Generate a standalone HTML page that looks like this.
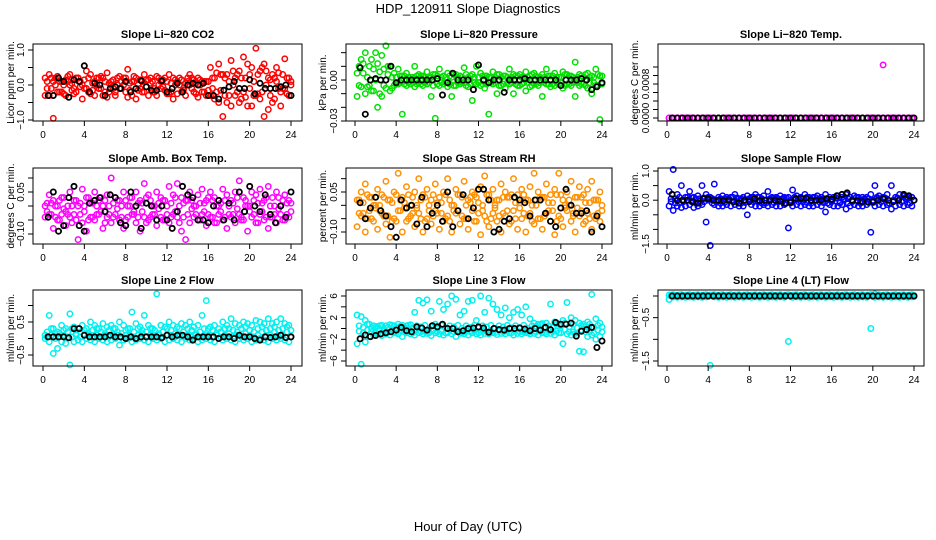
<!DOCTYPE html>
<html><head><meta charset="utf-8"><style>
html,body{margin:0;padding:0;background:#fff}
svg{display:block;font-family:"Liberation Sans",Arial,sans-serif}
</style></head><body>
<svg id="c" width="936" height="540" viewBox="0 0 936 540" xmlns="http://www.w3.org/2000/svg">
<text x="468" y="13" text-anchor="middle" font-size="13">HDP_120911  Slope Diagnostics</text>
<text x="468" y="531" text-anchor="middle" font-size="13">Hour of Day (UTC)</text>
</svg>
<script>
const xTicks=[0,4,8,12,16,20,24];
const hoursColor=[0.2,0.6,1,1.4,1.8,2.2,2.6,3,3.4,3.8,4.2,4.6,5,5.4,5.8,6.2,6.6,7,7.4,7.8,8.2,8.6,9,9.4,9.8,10.2,10.6,11,11.4,11.8,12.2,12.6,13,13.4,13.8,14.2,14.6,15,15.4,15.8,16.2,16.6,17,17.4,17.8,18.2,18.6,19,19.4,19.8,20.2,20.6,21,21.4,21.8,22.2,22.6,23,23.4,23.8];
const hoursColor2=[0.4,0.8,1.2,1.6,2,2.4,2.8,3.2,3.6,4,4.4,4.8,5.2,5.6,6,6.4,6.8,7.2,7.6,8,8.4,8.8,9.2,9.6,10,10.4,10.8,11.2,11.6,12,12.4,12.8,13.2,13.6,14,14.4,14.8,15.2,15.6,16,16.4,16.8,17.2,17.6,18,18.4,18.8,19.2,19.6,20,20.4,20.8,21.2,21.6,22,22.4,22.8,23.2,23.6,24];
const hoursBlack=[0.5,1,1.5,2,2.5,3,3.5,4,4.5,5,5.5,6,6.5,7,7.5,8,8.5,9,9.5,10,10.5,11,11.5,12,12.5,13,13.5,14,14.5,15,15.5,16,16.5,17,17.5,18,18.5,19,19.5,20,20.5,21,21.5,22,22.5,23,23.5,24];

const co2A=[0.2,-0.3,0.1,0.25,-0.2,0.15,0.3,-0.1,0.2,0,0.4,-0.25,0.1,0.2,-0.3,0.35,0.1,-0.2,0.25,0,0.45,-0.3,0.2,-0.1,0.3,0.15,-0.2,0.25,0.1,-0.15,0.3,0.2,-0.25,0.15,0.05,0.3,-0.2,0.2,0.1,-0.3,0.5,-0.4,0.6,0.3,-0.5,0.7,-0.3,0.4,0.8,-0.6,0.5,1.05,-0.4,0.6,-0.7,0.3,0.5,-0.2,0.75,0.2];
const co2B=[-0.3,0.3,-0.95,-0.2,0.1,-0.3,0,-0.25,0.2,-0.4,-0.1,0.3,-0.3,-0.1,0.2,-0.35,0,-0.3,-0.1,0.2,-0.35,0.1,-0.4,0.15,-0.2,-0.3,0.1,-0.3,-0.1,0.2,-0.25,-0.4,0.1,-0.2,-0.3,0,0.15,-0.35,-0.2,0.1,-0.3,0.2,-0.5,-0.9,0.3,-0.6,0.2,-0.5,-0.2,0.6,-0.6,-0.3,0.4,-0.9,0.2,-0.5,0.1,-0.6,-0.1,-0.3];
const co2C=[0.1,-0.1,0.2,-0.2,0,0.1,-0.15,0.2,-0.05,0.15,-0.2,0.05,0.2,-0.1,0.1,-0.2,0.15,0,-0.1,0.2,-0.15,0.1,0,-0.2,0.15,0.05,-0.1,0.2,-0.05,0.1,-0.2,0.15,0,-0.15,0.2,-0.1,0.05,0.15,-0.2,0.1,0.2,-0.2,0.3,-0.3,0.1,0.4,-0.2,0.2,-0.35,0.3,0.1,-0.25,0.5,0,-0.3,0.2,0.35,-0.1,0.2,0];
const co2D=[-0.1,0.2,0,0.1,-0.25,0.25,0.05,-0.2,0.1,-0.1,0.2,-0.15,0,0.25,-0.2,0.05,-0.1,0.2,0.1,-0.2,0.05,0.25,-0.15,0.1,-0.05,0.2,-0.2,0,0.15,-0.25,0.05,0,0.2,-0.1,0.1,0.2,-0.25,0,0.1,-0.15,-0.1,0.35,-0.15,0.2,-0.3,0,0.3,-0.4,0.2,-0.1,-0.3,0.3,-0.2,0.4,0.15,-0.4,-0.1,0.3,-0.25,0.1];
const co2Black=[-0.3,-0.3,0.2,0.1,-0.35,0.15,0.1,0.55,-0.2,0.05,0,-0.3,-0.1,-0.05,-0.1,0.1,-0.2,-0.1,0.12,-0.05,-0.15,-0.15,0.12,-0.2,-0.1,0.05,-0.2,0,0.05,0,0.05,-0.3,-0.3,-0.4,-0.15,-0.05,0.1,-0.1,-0.1,0.15,-0.25,0.05,-0.1,-0.1,-0.1,-0.05,0,-0.3];

const presA=[0.005,0.015,0.02,0.01,0.008,0.012,0.018,0.025,0.01,0.005,0.008,0.003,0.005,0.002,0.01,0.004,0.003,0.006,0.002,0.004,0.008,0.003,0.005,0.002,0.004,0.003,0.009,0.002,0.004,0.01,0.005,0.003,0.002,0.006,0.004,0.002,0.003,0.008,0.004,0.003,0.002,0.006,0.003,0.005,0.002,0.004,0.008,0.003,0.005,0.002,0.006,0.004,0.003,0.013,0.004,0.002,0.005,0.003,0.008,0.003];
const presB=[-0.012,-0.005,-0.01,-0.004,-0.008,-0.02,-0.012,-0.006,-0.008,-0.004,-0.003,-0.025,-0.004,-0.003,-0.005,-0.002,-0.004,-0.003,-0.012,-0.028,-0.004,-0.003,-0.005,-0.012,-0.004,-0.003,-0.002,-0.005,-0.015,-0.003,-0.004,-0.006,-0.025,-0.003,-0.01,-0.004,-0.006,-0.003,-0.01,-0.004,-0.003,-0.008,-0.005,-0.003,-0.004,-0.012,-0.003,-0.005,-0.004,-0.003,-0.006,-0.003,-0.004,-0.012,-0.004,-0.003,-0.006,-0.01,-0.004,-0.029];
const presC=[0.01,0.005,-0.005,0.015,0,-0.01,0.008,0.004,-0.006,0.002,0.003,-0.003,0.002,-0.002,0.003,-0.003,0.002,-0.002,0.004,-0.003,0.002,-0.002,0.003,-0.004,0.002,-0.002,0.004,-0.003,0.002,-0.002,0.003,-0.003,0.002,-0.002,0.004,-0.003,0.002,-0.002,0.003,-0.004,0.002,-0.002,0.004,-0.003,0.002,-0.002,0.003,-0.003,0.002,-0.002,0.004,-0.003,0.002,-0.002,0.003,-0.004,0.002,-0.002,0.004,-0.003];
const presD=[-0.004,0.012,0.002,-0.008,0.02,0.006,-0.004,0.01,0.002,-0.003,-0.002,0.003,-0.002,0.002,-0.003,0.003,-0.002,0.002,-0.004,0.003,-0.002,0.002,-0.003,0.004,-0.002,0.002,-0.004,0.003,-0.002,0.002,-0.003,0.003,-0.002,0.002,-0.004,0.003,-0.002,0.002,-0.003,0.004,-0.002,0.002,-0.004,0.003,-0.002,0.002,-0.003,0.003,-0.002,0.002,-0.004,0.003,-0.002,0.002,-0.003,0.004,-0.002,0.002,-0.004,0.003];
const presBlack=[0.009,-0.025,0,0.001,0,0,0.01,-0.002,0,0,0,0,0,0,0,0.001,-0.011,-0.002,0.005,0,0,0,-0.007,0.011,0,-0.002,0,0,-0.009,0,0,0,0.001,0,0,0,0,0,0,-0.004,0,0,0,0.001,0,-0.007,-0.005,-0.002];

const tempA=[0,0,0,0,0,0,0,0,0,0,0,0,0,0,0,0,0,0,0,0,0,0,0,0,0,0,0,0,0,0,0,0,0,0,0,0,0,0,0,0,0,0,0,0,0,0,0,0,0,0,0,0,0,0,0,0,0,0,0,0];
const tempB=[0,0,0,0,0,0,0,0,0,0,0,0,0,0,0,0,0,0,0,0,0,0,0,0,0,0,0,0,0,0,0,0,0,0,0,0,0,0,0,0,0,0,0,0,0,0,0,0,0,0,0,0,0.00125,0,0,0,0,0,0,0];
const tempC=[];
const tempD=[];
const tempBlack=[0,0,0,0,0,0,0,0,0,0,0,0,0,0,0,0,0,0,0,0,0,0,0,0,0,0,0,0,0,0,0,0,0,0,0,0,0,0,0,0,0,0,0,0,0,0,0,0];

const ambA=[0,0.04,0.02,0,0.03,-0.02,0.05,0.02,0,0.06,0.03,0.01,0.05,0.02,0,0.04,0.1,0.03,0.02,0.05,0,0.03,0.05,0.02,0.08,0.04,0,0.05,0.03,0.02,0.07,0.04,0.08,0.03,0.02,0.05,0,0.04,0.06,0.02,0.05,0.03,0,0.06,0.04,0.02,0.05,0.09,0.03,0,0.05,0.04,0.06,0.02,0.07,0.03,0.05,0,0.04,0.02];
const ambB=[-0.04,-0.03,-0.08,-0.05,-0.03,-0.07,-0.04,-0.03,-0.12,-0.06,-0.09,-0.04,-0.05,-0.03,-0.08,-0.04,-0.06,-0.03,-0.05,-0.08,-0.04,-0.03,-0.06,-0.09,-0.04,-0.05,-0.03,-0.07,-0.04,-0.05,-0.06,-0.03,-0.04,-0.09,-0.12,-0.06,-0.04,-0.05,-0.03,-0.07,-0.04,-0.06,-0.03,-0.05,-0.08,-0.04,-0.06,-0.03,-0.05,-0.09,-0.04,-0.06,-0.03,-0.05,-0.08,-0.04,-0.06,-0.03,-0.05,-0.04];
const ambC=[-0.02,0.01,-0.04,0.02,-0.01,-0.03,0,-0.05,0.01,-0.02,0.03,-0.04,0,-0.02,0.02,-0.03,0.01,-0.01,-0.04,0.02,0,-0.03,0.01,-0.02,0.03,-0.04,0,-0.01,0.02,-0.03,0.01,-0.02,0,-0.04,0.02,-0.01,-0.03,0.01,-0.02,0.03,-0.04,0,-0.02,0.02,-0.03,0.01,-0.01,-0.04,0.02,0,-0.03,0.01,-0.02,0.03,-0.04,0,-0.01,0.02,-0.03,0.01];
const ambD=[0.01,-0.03,0,-0.05,0.03,0,-0.06,0.02,-0.03,0,-0.05,0.01,-0.03,0.03,-0.06,0,-0.04,0.02,0,-0.05,0.03,-0.02,-0.04,0.01,-0.06,0.02,-0.03,0.01,-0.05,0,-0.04,0.03,-0.06,0.01,-0.03,0.02,0,-0.05,0.01,-0.03,0.02,-0.06,0.01,-0.04,0,-0.03,0.03,-0.05,0,-0.02,0.02,-0.06,0.01,-0.04,0,-0.03,0.03,-0.05,0.01,-0.02];
const ambBlack=[-0.04,0.05,-0.09,-0.07,0.03,0.07,-0.07,-0.09,0.01,0.02,0.03,-0.02,0.04,0.03,-0.06,-0.07,0.05,0,-0.08,0.01,0,-0.05,0,-0.05,-0.08,-0.02,0.07,0.04,0.03,-0.05,-0.05,-0.06,0,0.02,-0.05,0.01,-0.05,0.05,-0.02,0.07,0,-0.02,0.04,-0.03,-0.06,0,-0.04,0.05];

const rhA=[0.02,0.05,0.08,0.03,0,0.06,0.04,0.09,0.02,0.05,0.12,0.03,0.07,0,0.05,0.1,0.04,0.06,0.02,0.08,0.03,0.05,0.1,0,0.06,0.04,0.09,0.02,0.05,0.03,0.07,0.11,0.04,0.06,0.02,0.08,0.05,0.03,0.1,0.04,0.06,0.02,0.07,0.12,0.05,0.03,0.08,0.04,0.06,0.12,0.02,0.05,0.09,0.03,0.07,0.04,0.06,0.09,0.02,0.05];
const rhB=[-0.08,-0.04,-0.1,-0.02,-0.06,-0.09,-0.03,-0.07,-0.12,-0.05,-0.02,-0.1,-0.06,-0.04,-0.08,-0.03,-0.1,-0.05,-0.07,-0.02,-0.09,-0.06,-0.04,-0.1,-0.03,-0.07,-0.05,-0.09,-0.02,-0.06,-0.11,-0.04,-0.08,-0.03,-0.06,-0.1,-0.04,-0.07,-0.02,-0.09,-0.05,-0.1,-0.03,-0.07,-0.05,-0.09,-0.03,-0.06,-0.11,-0.04,-0.08,-0.02,-0.06,-0.1,-0.04,-0.07,-0.03,-0.09,-0.05,-0.06];
const rhC=[-0.03,0.01,-0.05,0.03,-0.01,0,-0.04,0.02,-0.06,0.04,-0.02,0.01,-0.05,0.03,-0.01,0.02,-0.06,0,0.04,-0.03,0.01,-0.05,0.02,-0.02,0.04,-0.04,0,0.03,-0.06,0.01,-0.02,0.04,-0.05,0,0.02,-0.03,0.03,-0.06,0.01,-0.01,0.04,-0.04,0,0.02,-0.05,0.03,-0.02,0.01,-0.06,0.04,-0.01,0,-0.04,0.03,-0.02,0.01,-0.05,0.02,-0.03,0];
const rhD=[0.02,-0.03,0.04,-0.05,0,-0.02,0.03,-0.04,0.01,-0.06,0.02,-0.01,0.04,-0.03,0,-0.05,0.03,-0.02,-0.04,0.01,-0.03,0.04,-0.06,0,-0.02,0.03,-0.05,0.01,0.04,-0.03,0,-0.06,0.02,-0.01,-0.04,0.03,-0.02,0.04,-0.05,0.01,-0.03,0.02,-0.06,0,0.03,-0.04,0.01,-0.02,0.04,-0.05,0,0.02,-0.03,-0.01,0.03,-0.06,0.01,-0.04,0.02,-0.02];
const rhBlack=[0.01,-0.05,-0.01,0.03,-0.02,-0.04,-0.08,-0.12,0.02,-0.01,0,-0.07,0.03,-0.08,-0.03,0,-0.06,0.05,-0.08,-0.02,0.04,-0.05,-0.01,0.06,0.06,0.02,-0.1,-0.09,-0.06,-0.05,0.03,0.02,0.01,-0.04,0.02,0.02,-0.03,-0.06,-0.08,-0.01,0.06,0,-0.03,-0.03,-0.02,-0.1,-0.04,-0.08];

const sampA=[0.3,1.05,0.2,0.5,0.1,0.3,0.1,0.15,0.5,0.2,0.1,0.55,0.1,0.15,0.1,0.1,0.2,0.05,0.1,0.15,0.1,0.2,0.1,0.15,0.3,0.1,0.1,0.15,0.1,0.1,0.35,0.15,0.1,0.2,0.1,0.1,0.15,0.1,0.2,0.1,0.1,0.15,0.1,0.2,0.1,0.15,0.1,0.1,0.1,0.2,0.5,0.15,0.1,0.2,0.5,0.1,0.2,0.15,0.1,0.1];
const sampB=[-0.2,-0.35,-0.2,-0.25,-0.2,-0.15,-0.25,-0.2,-0.15,-0.75,-1.55,-0.15,-0.2,-0.2,-0.15,-0.2,-0.15,-0.2,-0.2,-0.5,-0.15,-0.2,-0.2,-0.15,-0.2,-0.15,-0.2,-0.2,-0.15,-0.95,-0.2,-0.15,-0.2,-0.15,-0.2,-0.2,-0.15,-0.2,-0.4,-0.15,-0.2,-0.2,-0.15,-0.3,-0.2,-0.15,-0.2,-0.2,-0.15,-1.1,-0.2,-0.15,-0.2,-0.15,-0.3,-0.2,-0.15,-0.2,-0.15,-0.2];
const sampC=[0.05,-0.1,0.1,-0.05,0,0.08,-0.1,0.05,-0.05,0.1,-0.1,0,0.05,-0.08,0.05,-0.05,0.08,-0.1,0,0.05,-0.05,0.1,-0.1,0,0.05,-0.08,0.05,-0.05,0.08,-0.1,0,0.05,-0.05,0.1,-0.1,0,0.05,-0.08,0.05,-0.05,0.08,-0.1,0,0.05,-0.05,0.1,-0.1,0,0.05,-0.08,0.05,-0.05,0.08,-0.1,0,0.05,-0.05,0.1,-0.1,0];
const sampD=[-0.05,0.05,-0.1,0,0.1,-0.05,0.05,-0.1,0.08,0,0.05,-0.05,-0.1,0.05,0,0.1,-0.05,0.05,-0.08,0,0.1,-0.05,0.05,-0.1,0,0.08,-0.05,0.05,-0.1,0,0.1,-0.05,0.05,-0.08,0,0.1,-0.05,0.05,-0.1,0,0.08,-0.05,0.05,-0.1,0,0.1,-0.05,0.05,-0.08,0,0.1,-0.05,0.05,-0.1,0,0.08,-0.05,0.05,-0.1,0];
const sampBlack=[0.2,0,0,0,-0.05,-0.1,0.05,0.05,0,0,-0.02,0,-0.05,-0.1,0,-0.05,0.05,-0.02,0,0,0,-0.03,-0.1,-0.07,0.05,0.07,0.07,0,0,0,0.05,0.03,0.15,0.2,0.25,0,-0.02,-0.05,-0.05,-0.05,0,0.05,0,-0.05,0,0.2,0.15,0];

const l2A=[0.1,0.7,0.3,0.2,0.4,0.3,0.75,0.35,0.3,0.4,0.3,0.5,0.4,0.3,0.45,0.35,0.4,0.3,0.5,0.4,0.3,0.8,0.45,0.35,0.7,0.4,0.3,1.35,0.4,0.35,0.5,0.4,0.35,0.45,0.4,0.5,0.35,0.4,0.7,1.15,0.35,0.4,0.3,0.5,0.4,0.6,0.45,0.4,0.5,0.45,0.4,0.55,0.5,0.45,0.6,0.45,0.5,0.6,0.45,0.4];
const l2B=[0,-0.1,-0.45,-0.3,-0.1,-0.15,-0.8,-0.1,-0.05,-0.1,0,-0.05,-0.1,0,-0.05,-0.1,-0.05,0,-0.2,-0.05,0,-0.1,-0.05,0,-0.05,-0.1,0,-0.05,0,-0.1,-0.05,0,-0.05,-0.1,0,-0.05,0,-0.1,-0.05,0,-0.05,-0.1,0,-0.05,0,-0.05,-0.1,0,-0.05,0,-0.1,-0.05,0,-0.05,-0.1,0,-0.05,0,-0.05,-0.1];
const l2C=[0.2,0.1,0,0.15,0.1,0.2,0.05,0.15,0.2,0.1,0.15,0.25,0.1,0.2,0.15,0.25,0.1,0.2,0.15,0.25,0.1,0.2,0.3,0.15,0.2,0.1,0.25,0.15,0.2,0.1,0.25,0.15,0.3,0.2,0.1,0.25,0.15,0.2,0.3,0.1,0.25,0.15,0.2,0.3,0.15,0.25,0.2,0.3,0.15,0.25,0.2,0.3,0.2,0.25,0.3,0.2,0.25,0.3,0.2,0.25];
const l2D=[0.05,0.3,0.15,0.05,0.25,0.05,0.3,0.1,0.05,0.25,0.1,0.05,0.3,0.05,0.1,0.05,0.3,0.1,0.05,0.1,0.3,0.05,0.1,0.25,0.05,0.3,0.05,0.1,0.05,0.3,0.1,0.05,0.1,0.05,0.3,0.05,0.1,0.05,0.1,0.3,0.05,0.1,0.05,0.1,0.3,0.05,0.1,0.05,0.35,0.1,0.05,0.1,0.35,0.05,0.1,0.35,0.05,0.1,0.35,0.05];
const l2Black=[0.05,0.05,0.05,0.05,0.02,0.3,0.3,0.1,0.05,0.05,0.05,0.05,0.1,0.05,0.05,0,0.05,0,0.05,0.05,0.05,0.05,0.02,0.1,0.05,0.1,0.1,0.05,-0.05,0.05,0.05,0.05,0.05,0,0.05,0.05,0,0.1,0.05,0.05,0,-0.05,0.05,0.03,0.05,0.1,0.03,0.05];

const l3A=[2.5,2.2,1.5,0.8,0.5,0.4,0.6,0.5,0.7,0.5,0.8,0.6,0.5,0.7,3,5.2,4.7,5.3,3.2,0.8,5,3.5,4.5,6,5.4,2.5,3.2,5,5.2,1.5,6,3,5.6,4.5,3.5,2.5,3.8,2,3,3.5,2.5,4,1.8,1,0.8,0.9,1,4.5,1.2,0.8,1.5,4.8,2,1.5,1,0.8,1.2,6.3,1.8,1];
const l3B=[-2.8,-6.6,-2.5,-1.5,-1.2,-1,-1.3,-1,-1.2,-0.8,-1,-1.5,-0.8,-1,-1.2,-0.8,-1,-0.9,-1.3,-0.8,-1,-1.2,-0.8,-1,-1.5,-0.9,-1,-1.2,-0.8,-1,-1.2,-0.9,-1,-0.8,-1.1,-0.9,-1,-0.8,-1.2,-0.9,-1,-0.8,-1,-0.9,-1.2,-0.8,-1,-0.9,-1.2,-0.8,-2.8,-1,-1.2,-0.9,-4.2,-4.3,-1.5,-1.2,-2,-1.5];
const l3C=[-0.5,0.2,-0.3,-0.6,0.3,-0.2,-0.5,0.2,-0.4,0.1,-0.3,0.2,-0.5,0.1,-0.2,0.3,-0.5,0,-0.3,0.4,-0.5,0.1,-0.2,0.3,-0.6,0,-0.3,0.2,-0.5,0.1,-0.3,0.3,-0.6,0,-0.2,0.3,-0.5,0.1,-0.3,0.2,-0.6,0,-0.2,0.4,-0.5,0.1,-0.3,0.2,-0.5,0.5,-0.2,0.3,-0.6,0.1,-0.3,0.4,-0.5,0.2,-0.3,0.3];
const l3D=[0.5,-0.8,0.8,0,-0.8,0.5,0,-0.7,0.6,-0.8,0.4,-0.6,0.6,-0.8,0.5,-0.6,0.6,-0.8,0.5,-0.6,0.6,-0.8,0.5,-0.6,0.6,-0.8,0.5,-0.6,0.6,-0.8,0.5,-0.6,0.6,-0.8,0.5,-0.6,0.6,-0.8,0.5,-0.6,0.6,-0.8,0.5,-0.6,0.8,-0.8,0.5,-0.6,0.8,-0.8,1,-0.6,0.8,-0.8,0.6,-0.6,0.8,-0.8,0.6,-0.6];
const l3Black=[-1.9,-1.2,-1.5,-1.3,-1,-0.8,-0.6,-0.3,0.2,-0.4,-0.6,0.3,0.1,-0.3,0.5,0.3,0.8,0,0,-0.6,-0.4,0,0.1,0.3,0.1,-0.7,0,-0.2,-0.3,0,0,0.1,-0.1,-0.4,0,-0.3,0.2,-0.2,1.1,0.8,0.8,1,-1.4,-0.5,-0.2,0.2,-3.5,-2.3];

const l4A=[0.02,0.03,0.02,0.03,0.02,0.03,0.02,0.03,0.02,0.03,0.02,0.03,0.02,0.03,0.02,0.03,0.02,0.03,0.02,0.03,0.02,0.03,0.02,0.03,0.02,0.03,0.02,0.03,0.02,0.03,0.02,0.03,0.02,0.03,0.02,0.03,0.02,0.03,0.02,0.03,0.02,0.03,0.02,0.03,0.02,0.03,0.02,0.03,0.02,0.03,0.05,0.03,0.02,0.03,0.02,0.03,0.02,0.03,0.02,0.03];
const l4B=[-0.08,-0.02,-0.03,-0.02,-0.03,-0.02,-0.03,-0.02,-0.03,-0.02,-1.6,-0.02,-0.03,-0.02,-0.03,-0.02,-0.03,-0.02,-0.03,-0.02,-0.03,-0.02,-0.03,-0.02,-0.03,-0.02,-0.03,-0.02,-0.03,-1.05,-0.03,-0.02,-0.03,-0.02,-0.03,-0.02,-0.03,-0.02,-0.03,-0.02,-0.03,-0.02,-0.03,-0.02,-0.03,-0.02,-0.03,-0.02,-0.03,-0.75,-0.03,-0.02,-0.03,-0.02,-0.03,-0.02,-0.03,-0.02,-0.03,-0.02];
const l4C=[0,0.01,0,0.01,0,0.01,0,0.01,0,0.01,0,0.01,0,0.01,0,0.01,0,0.01,0,0.01,0,0.01,0,0.01,0,0.01,0,0.01,0,0.01,0,0.01,0,0.01,0,0.01,0,0.01,0,0.01,0,0.01,0,0.01,0,0.01,0,0.01,0,0.01,0,0.01,0,0.01,0,0.01,0,0.01,0,0.01];
const l4D=[0.02,-0.01,0.02,-0.01,0.02,-0.01,0.02,-0.01,0.02,-0.01,0.02,-0.01,0.02,-0.01,0.02,-0.01,0.02,-0.01,0.02,-0.01,0.02,-0.01,0.02,-0.01,0.02,-0.01,0.02,-0.01,0.02,-0.01,0.02,-0.01,0.02,-0.01,0.02,-0.01,0.02,-0.01,0.02,-0.01,0.02,-0.01,0.02,-0.01,0.02,-0.01,0.02,-0.01,0.02,-0.01,0.02,-0.01,0.02,-0.01,0.02,-0.01,0.02,-0.01,0.02,-0.01];
const l4Black=[0,0,0,0,0,0,0,0,0,0,0,0,0,0,0,0,0,0,0,0,0,0,0,0,0,0,0,0,0,0,0,0,0,0,0,0,0,0,0,0,0,0,0,0,0,0,0,0];

const titles=["Slope Li\u2212820 CO2","Slope Li\u2212820 Pressure","Slope Li\u2212820 Temp.","Slope Amb. Box Temp.","Slope Gas Stream RH","Slope Sample Flow","Slope Line 2 Flow","Slope Line 3 Flow","Slope Line 4 (LT) Flow"];
const yTitles=["Licor ppm per min.","kPa per min.","degrees C per min.","degrees C per min.","percent per min.","ml/min per min.","ml/min per min.","ml/min per min.","ml/min per min."];
const yTickSets=[[-1,-0.5,0,0.5,1],[-0.03,-0.02,-0.01,0,0.01,0.02],[0,0.0002,0.0004,0.0006,0.0008,0.001,0.0012],[-0.1,-0.05,0,0.05,0.1],[-0.1,-0.05,0,0.05,0.1],[-1.5,-1,-0.5,0,0.5,1],[-0.5,0,0.5,1],[-6,-4,-2,0,2,4,6],[-1.5,-1,-0.5,0]];
const yLabelSets=[{"-1":"\u22121.0","0":"0.0","1":"1.0"},{"-0.03":"\u22120.03","0":"0.00"},{"0":"0.0000","0.0008":"0.0008"},{"-0.1":"\u22120.10","0.05":"0.05"},{"-0.1":"\u22120.10","0.05":"0.05"},{"-1.5":"\u22121.5","0":"0.0","1":"1.0"},{"-0.5":"\u22120.5","0.5":"0.5"},{"-6":"\u22126","-2":"\u22122","2":"2","6":"6"},{"-1.5":"\u22121.5","-0.5":"\u22120.5"}];
const colorSeriesA=[co2A,presA,tempA,ambA,rhA,sampA,l2A,l3A,l4A];
const colorSeriesB=[co2B,presB,tempB,ambB,rhB,sampB,l2B,l3B,l4B];
const colorSeriesC=[co2C,presC,tempC,ambC,rhC,sampC,l2C,l3C,l4C];
const colorSeriesD=[co2D,presD,tempD,ambD,rhD,sampD,l2D,l3D,l4D];
const blackSeries=[co2Black,presBlack,tempBlack,ambBlack,rhBlack,sampBlack,l2Black,l3Black,l4Black];
const colors=["#ff0000","#00e000","#ff00ff","#ff00ff","#ff9000","#0000ff","#00f0f0","#00f0f0","#00f0f0"];
const names=["co2","pressure","licor-temp","amb-box-temp","gas-stream-rh","sample-flow","line2-flow","line3-flow","line4-flow"];

const cols=[{b0:33,b1:302,x0:43,x24:291,yt:10},{b0:346,b1:612,x0:355,x24:602,yt:322},{b0:658,b1:924,x0:667,x24:914,yt:634}];
const rows=[{t:44,b:121},{t:168,b:244},{t:290,b:366}];
const yMaps=[[1,50,-1,120],[0,80,-0.03,121],[0,118,0.0008,84],[0.05,192,-0.1,234],[0.05,192,-0.1,232],[1,171,-1.5,244],[0.5,322,-0.5,355],[6,296,-6,361],[0,296,-1.5,361]];

const NS="http://www.w3.org/2000/svg";
const svg=document.getElementById('c');
function mk(tag,attrs,parent){const e=document.createElementNS(NS,tag);for(const k in attrs)e.setAttribute(k,attrs[k]);(parent||svg).appendChild(e);return e;}

for(let p=0;p<9;p++){
  const c=cols[p%3], r=rows[Math.floor(p/3)], m=yMaps[p];
  const xs=h=>c.x0+(h/24)*(c.x24-c.x0);
  const ys=v=>m[1]+(v-m[0])*(m[3]-m[1])/(m[2]-m[0]);
  const g=mk('g',{});
  
  
  const t=mk('text',{x:(c.b0+c.b1)/2,y:r.t-6,'text-anchor':'middle','font-size':'11','font-weight':'bold'},g);
  t.textContent=titles[p];
  
  
  const yt=mk('text',{x:0,y:0,'text-anchor':'middle','font-size':'10',transform:`translate(${c.yt+4},${(r.t+r.b)/2}) rotate(-90)`},g);
  yt.textContent=yTitles[p];
  
  
  const pts=mk('g',{fill:'none','stroke-width':'1.5'},g);
  
  
  [[hoursColor,colorSeriesA[p]],[hoursColor,colorSeriesB[p]],[hoursColor2,colorSeriesC[p]],[hoursColor2,colorSeriesD[p]]].forEach(([hh,arr])=>{
    arr.forEach((v,i)=>{
      const el=mk('circle',{cx:xs(hh[i]).toFixed(1),cy:ys(v).toFixed(1),r:2.7,stroke:colors[p]},pts);
      
      
    });
  });
  blackSeries[p].forEach((v,i)=>{
    const el=mk('circle',{cx:xs(hoursBlack[i]).toFixed(1),cy:ys(v).toFixed(1),r:2.6,stroke:'#000','stroke-width':'1.8'},pts);
    
    
  });
  const fr=mk('rect',{x:c.b0,y:r.t,width:c.b1-c.b0,height:r.b-r.t,fill:'none',stroke:'#000','stroke-width':'1'},g);
  
  
  const xa=mk('g',{stroke:'#000','stroke-width':'1'},g);
  
  
  mk('line',{x1:xs(0),x2:xs(24),y1:r.b,y2:r.b},xa);
  xTicks.forEach(h=>{
    mk('line',{x1:xs(h),x2:xs(h),y1:r.b,y2:r.b+5},xa);
    const tl=mk('text',{x:xs(h),y:r.b+17,'text-anchor':'middle','font-size':'10',stroke:'none',fill:'#000'},xa);
    tl.textContent=String(h);
  });
  const ya=mk('g',{stroke:'#000','stroke-width':'1'},g);
  
  
  const tk=yTickSets[p];
  mk('line',{x1:c.b0,x2:c.b0,y1:ys(tk[0]),y2:ys(tk[tk.length-1])},ya);
  tk.forEach(v=>{
    mk('line',{x1:c.b0-5,x2:c.b0,y1:ys(v),y2:ys(v)},ya);
    const lab=yLabelSets[p][String(v)];
    if(lab){
      const tl=mk('text',{x:0,y:0,'text-anchor':'middle','font-size':'10',stroke:'none',fill:'#000',transform:`translate(${c.b0-9},${ys(v)}) rotate(-90)`},ya);
      tl.textContent=lab;
    }
  });
}
</script>
</body></html>
